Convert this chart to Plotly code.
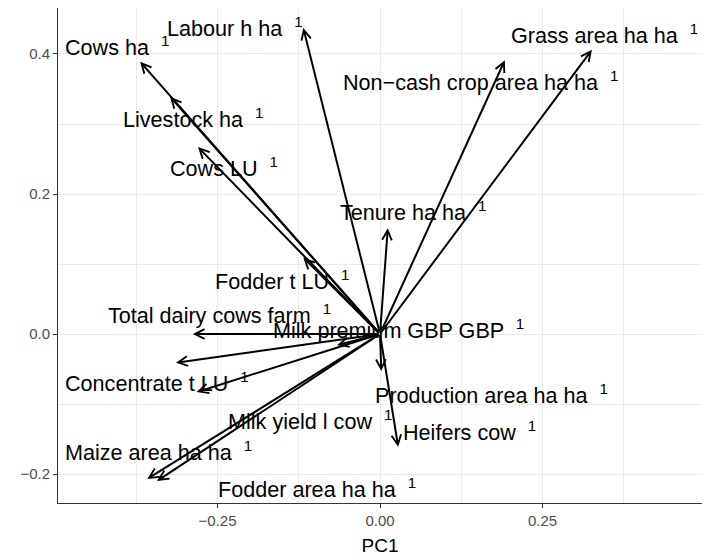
import plotly.graph_objects as go

# Variable names (superscript "1" shown as in the reference)
variables = [
    "Cows ha", "Labour h ha", "Livestock ha", "Cows LU", "Grass area ha ha",
    "Non\u2212cash crop area ha ha", "Tenure ha ha", "Fodder t LU",
    "Total dairy cows farm", "Milk premium GBP GBP", "Concentrate t LU",
    "Production area ha ha", "Milk yield l cow", "Heifers cow",
    "Maize area ha ha", "Fodder area ha ha",
]
# Loadings (arrow tips)
pc1 = [-0.369, -0.118, -0.323, -0.280, 0.326,
       0.192, 0.012, -0.118,
       -0.288, -0.066, -0.282,
       0.002, -0.314, 0.028,
       -0.358, -0.343]
pc2 = [0.389, 0.437, 0.339, 0.267, 0.406,
       0.391, 0.151, 0.109,
       0.000, -0.016, -0.083,
       -0.053, -0.041, -0.161,
       -0.207, -0.210]
# Label anchor positions (left edge, vertical middle) in data units
label_x = [-0.4876, -0.3307, -0.3984, -0.3261, 0.1985,
           -0.0599, -0.0645, -0.2568,
           -0.4215, -0.1676, -0.4876,
           -0.0107, -0.2368, 0.0324,
           -0.4876, -0.2522]
label_y = [0.4116, 0.4387, 0.3087, 0.2387, 0.4287,
           0.3616, 0.1759, 0.0773,
           0.0287, 0.0073, -0.0684,
           -0.0856, -0.1227, -0.1384,
           -0.1670, -0.2199]

x_ticks = [-0.25, 0.0, 0.25]
x_ticklabels = ["\u22120.25", "0.00", "0.25"]
y_ticks = [-0.2, 0.0, 0.2, 0.4]
y_ticklabels = ["\u22120.2", "0.0", "0.2", "0.4"]

fig = go.Figure()
fig.add_trace(go.Scatter(x=[0], y=[0], mode="markers", marker=dict(opacity=0), hoverinfo="skip", showlegend=False))

annotations = []
for name, px, py in zip(variables, pc1, pc2):
    annotations.append(dict(
        x=px, y=py, ax=0, ay=0, xref="x", yref="y", axref="x", ayref="y",
        text="", showarrow=True, arrowhead=5, arrowsize=0.95, arrowwidth=2,
        arrowcolor="black", standoff=0, startstandoff=0,
    ))
for name, lx, ly in zip(variables, label_x, label_y):
    annotations.append(dict(
        x=lx, y=ly, xref="x", yref="y", text=name + "  <sup>1</sup>",
        showarrow=False, xanchor="left", yanchor="middle",
        font=dict(family="Liberation Sans, Arial, sans-serif", size=21.6, color="black"),
    ))

grid_major = "#EBEBEB"
fig.update_layout(
    width=710, height=560,
    margin=dict(l=50, r=16, t=0, b=65),
    plot_bgcolor="white", paper_bgcolor="white",
    showlegend=False,
    annotations=annotations,
    font=dict(family="Liberation Sans, Arial, sans-serif"),
    xaxis=dict(
        range=[-0.4954, 0.4954], tickvals=x_ticks, ticktext=x_ticklabels,
        showgrid=True, gridcolor=grid_major, gridwidth=1.1, zeroline=False,
        showline=True, mirror=True, linecolor="#333333", linewidth=1,
        ticks="outside", ticklen=4, tickcolor="#333333", tickwidth=1,
        tickfont=dict(size=15, color="#4D4D4D"),
        title=dict(text="PC1", font=dict(size=19, color="black"), standoff=10),
        minor=dict(tickvals=[-0.375, -0.125, 0.125, 0.375], showgrid=True, gridcolor=grid_major, gridwidth=0.55, ticks=""),
    ),
    yaxis=dict(
        range=[-0.2414, 0.4657], tickvals=y_ticks, ticktext=y_ticklabels,
        showgrid=True, gridcolor=grid_major, gridwidth=1.1, zeroline=False,
        showline=True, mirror=True, linecolor="#333333", linewidth=1,
        ticks="outside", ticklen=4, tickcolor="#333333", tickwidth=1,
        tickfont=dict(size=15, color="#4D4D4D"),
        minor=dict(tickvals=[-0.1, 0.1, 0.3], showgrid=True, gridcolor=grid_major, gridwidth=0.55, ticks=""),
    ),
)

fig.write_html("out.html")
